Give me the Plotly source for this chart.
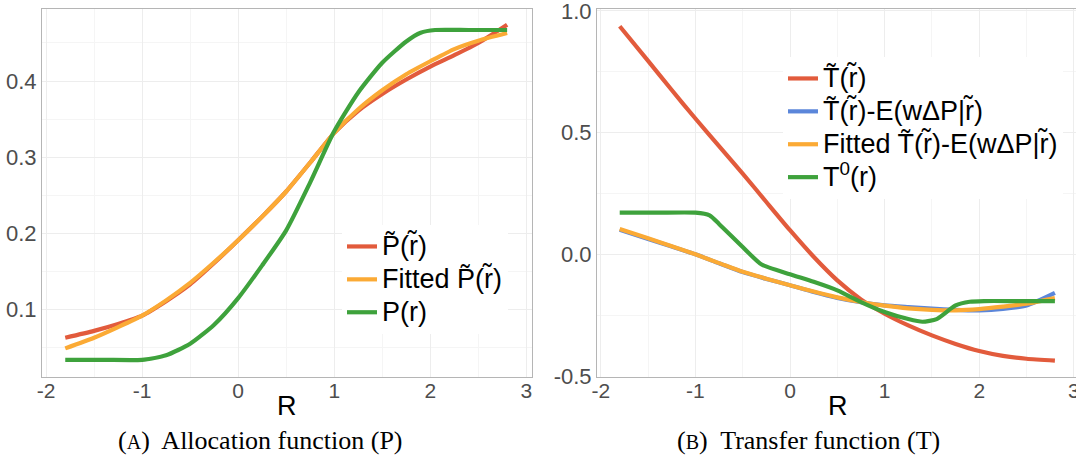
import plotly.graph_objects as go

# ---------------- data ----------------
# Panel A: Allocation function
r_a = [-1.8, -1.5, -1.25, -1.0, -0.75, -0.5, -0.25, 0.0, 0.25, 0.5, 0.75,
       1.0, 1.25, 1.5, 1.75, 2.0, 2.25, 2.5, 2.8]
p_tilde = [0.063, 0.072, 0.081, 0.092, 0.111, 0.133, 0.161, 0.191, 0.222, 0.255,
           0.293, 0.332, 0.361, 0.383, 0.402, 0.419, 0.434, 0.450, 0.474]
p_fitted = [0.049, 0.063, 0.077, 0.092, 0.112, 0.135, 0.162, 0.191, 0.222, 0.255,
            0.293, 0.332, 0.363, 0.388, 0.409, 0.426, 0.442, 0.453, 0.463]
r_a_true = [-1.8, -1.4, -1.0, -0.75, -0.5, -0.25, 0.0, 0.25, 0.5, 0.75,
            1.0, 1.25, 1.5, 1.75, 1.9, 2.05, 2.4, 2.8]
p_true = [0.034, 0.034, 0.034, 0.040, 0.055, 0.080, 0.115, 0.158, 0.204, 0.267,
          0.334, 0.385, 0.424, 0.452, 0.4635, 0.467, 0.467, 0.467]

# Panel B: Transfer function
r_b = [-1.8, -1.5, -1.25, -1.0, -0.75, -0.5, -0.25, 0.0, 0.25, 0.5, 0.75,
       1.0, 1.25, 1.5, 1.75, 2.0, 2.25, 2.5, 2.8]
t_tilde = [0.937, 0.795, 0.675, 0.558, 0.445, 0.332, 0.215, 0.099, -0.010, -0.107,
           -0.185, -0.244, -0.292, -0.333, -0.368, -0.397, -0.417, -0.429, -0.437]
t_minus_e = [0.101, 0.063, 0.032, 0.000, -0.037, -0.073, -0.101, -0.127, -0.155, -0.179,
             -0.197, -0.210, -0.217, -0.223, -0.228, -0.230, -0.224, -0.210, -0.158]
t_fitted = [0.104, 0.066, 0.033, 0.000, -0.036, -0.072, -0.100, -0.127, -0.153, -0.177,
            -0.196, -0.211, -0.222, -0.228, -0.230, -0.225, -0.215, -0.203, -0.180]
r_b_true = [-1.8, -1.4, -1.0, -0.85, -0.75, -0.5, -0.3, 0.0, 0.25, 0.5, 0.75,
            1.0, 1.25, 1.4, 1.55, 1.75, 1.9, 2.05, 2.4, 2.8]
t_true = [0.171, 0.171, 0.171, 0.160, 0.125, 0.030, -0.042, -0.082, -0.113, -0.148, -0.196,
          -0.237, -0.266, -0.277, -0.266, -0.210, -0.195, -0.192, -0.192, -0.192]

x_ticks = [-2, -1, 0, 1, 2, 3]
ya_ticks = [0.1, 0.2, 0.3, 0.4]
yb_ticks = [-0.5, 0.0, 0.5, 1.0]

names_a = ["P\u0303(r\u0303)", "Fitted P\u0303(r\u0303)", "P(r)"]
names_b = ["T\u0303(r\u0303)", "T\u0303(r\u0303)-E(w\u0394P|r\u0303)",
           "Fitted T\u0303(r\u0303)-E(w\u0394P|r\u0303)", "T<sup>0</sup>(r)"]

RED = "#E25B3C"
ORANGE = "#FBAA35"
BLUE = "#5B86DA"
GREEN = "#3EA23C"
LW = 4.2
SANS = "Liberation Sans, Arial, sans-serif"
SERIF = "Liberation Serif, Times New Roman, serif"
LEG_TXT = 27

fig = go.Figure()

def add(x, y, name, color, xa, ya, leg):
    fig.add_trace(go.Scatter(
        x=x, y=y, name=f"<span style='font-size:{LEG_TXT}px'>{name}</span>", mode="lines",
        line=dict(color=color, width=LW, shape="spline", smoothing=0.6),
        xaxis=xa, yaxis=ya, legend=leg))

add(r_a, p_tilde, names_a[0], RED, "x", "y", "legend")
add(r_a, p_fitted, names_a[1], ORANGE, "x", "y", "legend")
add(r_a_true, p_true, names_a[2], GREEN, "x", "y", "legend")

add(r_b, t_tilde, names_b[0], RED, "x2", "y2", "legend2")
add(r_b, t_minus_e, names_b[1], BLUE, "x2", "y2", "legend2")
add(r_b, t_fitted, names_b[2], ORANGE, "x2", "y2", "legend2")
add(r_b_true, t_true, names_b[3], GREEN, "x2", "y2", "legend2")

L, R_, T, B = 42, 0, 9, 82
W, H = 1076, 459
pw = W - L - R_
ph = H - T - B

def px(xp):
    return (xp - L) / pw

def py(yp):
    return (H - B - yp) / ph

axis_common = dict(
    showline=True, linecolor="#B5B5B5", linewidth=1, mirror=True,
    showgrid=True, gridcolor="#EDEDED", gridwidth=1,
    zeroline=False, ticks="", ticklabeloverflow="allow",
)
xfont = dict(family=SANS, size=21, color="#4D4D4D")
yfont = dict(family=SANS, size=22, color="#4D4D4D")

fig.update_layout(
    width=W, height=H,
    margin=dict(l=L, r=R_, t=T, b=B, autoexpand=False),
    paper_bgcolor="white", plot_bgcolor="white",
    xaxis=dict(axis_common, domain=[0, px(532.3)], range=[-2.042, 3.062],
               tickvals=x_ticks, ticktext=[str(v) for v in x_ticks], tickfont=xfont,
               ticklabelstandoff=-5,
               minor=dict(dtick=0.5, tick0=0, showgrid=True, gridcolor="#F5F5F5"),
               anchor="y"),
    yaxis=dict(axis_common, domain=[0, 1], range=[0.0114, 0.4946],
               tickvals=ya_ticks, ticktext=[f"{v:.1f}" for v in ya_ticks], tickfont=yfont,
               minor=dict(dtick=0.05, tick0=0, showgrid=True, gridcolor="#F5F5F5"),
               anchor="x"),
    xaxis2=dict(axis_common, domain=[px(597), 1], range=[-2.04, 3.023],
                tickvals=x_ticks, ticktext=[str(v) for v in x_ticks], tickfont=xfont,
                ticklabelstandoff=-5,
                minor=dict(dtick=0.5, tick0=0, showgrid=True, gridcolor="#F5F5F5"),
                anchor="y2"),
    yaxis2=dict(axis_common, domain=[0, 1], range=[-0.504, 1.008],
                tickvals=yb_ticks, ticktext=[f"{v:.1f}" for v in yb_ticks], tickfont=yfont,
                minor=dict(dtick=0.25, tick0=0, showgrid=True, gridcolor="#F5F5F5"),
                anchor="x2"),
    legend=dict(x=px(342), y=py(225), xanchor="left", yanchor="top",
                bgcolor="white", borderwidth=0, tracegroupgap=0,
                font=dict(family=SANS, size=23, color="black")),
    legend2=dict(x=px(783), y=py(57), xanchor="left", yanchor="top",
                 bgcolor="white", borderwidth=0, tracegroupgap=0,
                 font=dict(family=SANS, size=23, color="black")),
    showlegend=True,
)

anns = [
    dict(text="R", x=px(287.3), y=py(406), font=dict(family=SANS, size=27, color="black")),
    dict(text="R", x=px(838), y=py(406), font=dict(family=SANS, size=27, color="black")),
    dict(text="(<span style='font-size:20px'>A</span>)\u00a0 Allocation function (P)",
         x=px(260), y=py(440), font=dict(family=SERIF, size=26, color="black")),
    dict(text="(<span style='font-size:20px'>B</span>)\u00a0 Transfer function (T)",
         x=px(808), y=py(440), font=dict(family=SERIF, size=26, color="black")),
]
for a in anns:
    fig.add_annotation(xref="paper", yref="paper", showarrow=False,
                       xanchor="center", yanchor="middle", **a)

fig.write_html("out.html",
               config={"displayModeBar": False},
               post_script="document.body.style.margin='0';document.body.style.overflow='hidden';")
